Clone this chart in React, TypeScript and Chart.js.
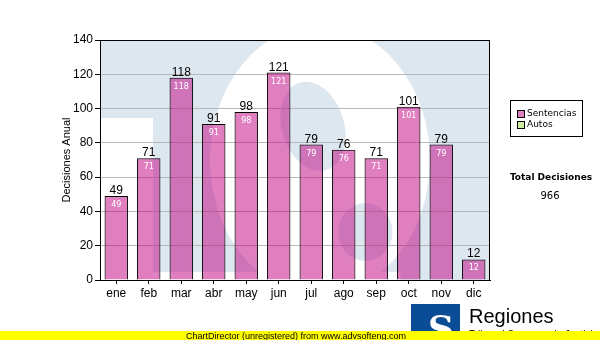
import { useEffect, useRef } from 'react';
import { Chart, registerables } from 'chart.js';

Chart.register(...registerables);

const months = ['ene', 'feb', 'mar', 'abr', 'may', 'jun', 'jul', 'ago', 'sep', 'oct', 'nov', 'dic'];
const sentencias = [49, 71, 118, 91, 98, 121, 79, 76, 71, 101, 79, 12];
const autos = [0, 0, 0, 0, 0, 0, 0, 0, 0, 0, 0, 0];
const seriesNames = ['Sentencias', 'Autos'];
const yMin = 0;
const yMax = 140;
const yStep = 20;
const axisTitle = 'Decisiones Anual';
const totalTitle = 'Total Decisiones';
const footerText = 'ChartDirector (unregistered) from www.advsofteng.com';
const logoTitle = 'Regiones';
const logoSub = 'Tribunal Supremo de Justicia';

const ARIAL = 'Arial, "Liberation Sans", sans-serif';
const VERD = '"DejaVu Sans", Verdana, sans-serif';
const BAR_FILL = 'rgba(193,0,128,0.5)';
const AUTO_FILL = 'rgba(160,215,70,0.5)';
const LEGEND_FILL = ['#e07fc0', '#d0ee9f'];
const WM_BLUE = '#dde7f0';

const decorPlugin = {
  id: 'decor',
  beforeDraw(chart: any) {
    const { ctx, chartArea } = chart;
    const { left, top, right, bottom } = chartArea;
    const w = right - left;
    const h = bottom - top;
    const X = (f: number) => left + f * w;
    const Y = (f: number) => top + f * h;
    ctx.save();
    ctx.beginPath();
    ctx.rect(left, top, w, h);
    ctx.clip();
    ctx.fillStyle = WM_BLUE;
    ctx.fillRect(left, top, w, h);
    ctx.fillStyle = '#ffffff';
    // stem
    ctx.fillRect(X(0), Y(0.325), 0.136 * w, 0.642 * h);
    // bottom strip
    ctx.fillRect(X(0), Y(0.967), 0.77 * w, 0.04 * h);
    // big S body
    ctx.beginPath();
    ctx.ellipse(X(0.564), Y(0.5), 0.282 * w, 0.5625 * h, 0, 0, Math.PI * 2);
    ctx.fill();
    // counters
    ctx.fillStyle = WM_BLUE;
    ctx.beginPath();
    ctx.ellipse(X(0.546), Y(0.36), 0.08 * w, 0.19 * h, -0.3, 0, Math.PI * 2);
    ctx.fill();
    ctx.beginPath();
    ctx.ellipse(X(0.68), Y(0.8), 0.07 * w, 0.12 * h, 0, 0, Math.PI * 2);
    ctx.fill();
    ctx.restore();
  },
  afterDraw(chart: any) {
    const { ctx, chartArea } = chart;
    const { left, top, right, bottom } = chartArea;
    ctx.save();
    // plot border
    ctx.strokeStyle = '#000';
    ctx.lineWidth = 1;
    ctx.strokeRect(Math.round(left) + 0.5, Math.round(top) + 0.5, Math.round(right - left) - 1, Math.round(bottom - top));

    // value labels
    const meta = chart.getDatasetMeta(0);
    const vals = chart.data.datasets[0].data as number[];
    meta.data.forEach((bar: any, i: number) => {
      const v = vals[i];
      ctx.textAlign = 'center';
      ctx.textBaseline = 'alphabetic';
      ctx.fillStyle = '#000';
      ctx.font = `12px ${ARIAL}`;
      ctx.fillText(String(v), bar.x, bar.y - 2);
      ctx.fillStyle = '#ffffff';
      ctx.font = `8px ${VERD}`;
      ctx.fillText(String(v), bar.x, bar.y + 11);
    });

    // legend
    const lx = right + 20;
    const ly = top + 60;
    ctx.fillStyle = '#fff';
    ctx.fillRect(lx + 0.5, ly + 0.5, 72, 36);
    ctx.strokeStyle = '#000';
    ctx.strokeRect(lx + 0.5, ly + 0.5, 72, 36);
    chart.data.datasets.forEach((ds: any, i: number) => {
      const sy = ly + 10 + i * 11;
      ctx.fillStyle = LEGEND_FILL[i];
      ctx.fillRect(lx + 7.5, sy + 0.5, 7, 7);
      ctx.strokeStyle = '#000';
      ctx.strokeRect(lx + 7.5, sy + 0.5, 7, 7);
      ctx.fillStyle = '#000';
      ctx.font = `9px ${VERD}`;
      ctx.textAlign = 'left';
      ctx.textBaseline = 'middle';
      ctx.fillText(ds.label, lx + 17, sy + 4);
    });

    // total
    const total = (chart.data.datasets as any[]).reduce(
      (s: number, ds: any) => s + (ds.data as number[]).reduce((a: number, b: number) => a + b, 0),
      0
    );
    ctx.textAlign = 'center';
    ctx.textBaseline = 'middle';
    ctx.fillStyle = '#000';
    ctx.font = `bold 9px ${VERD}`;
    ctx.fillText(totalTitle, 551, top + 138);
    ctx.font = `10px ${VERD}`;
    ctx.fillText(String(total), 550, top + 156);

    // logo
    ctx.fillStyle = '#0b4c97';
    ctx.fillRect(411, 304, 49, 30);
    ctx.fillStyle = '#ffffff';
    ctx.font = `bold 36px "DejaVu Serif", serif`;
    ctx.textAlign = 'center';
    ctx.textBaseline = 'alphabetic';
    ctx.fillText('S', 441, 341);
    ctx.fillStyle = '#000';
    ctx.textAlign = 'left';
    ctx.font = `20px ${ARIAL}`;
    ctx.fillText(logoTitle, 469, 323);
    ctx.font = `10px ${ARIAL}`;
    ctx.fillText(logoSub, 469, 338);

    // footer
    ctx.fillStyle = '#ffff00';
    ctx.fillRect(0, 331, 600, 9);
    ctx.fillStyle = '#000';
    ctx.font = `9px ${ARIAL}`;
    ctx.textAlign = 'center';
    ctx.textBaseline = 'alphabetic';
    ctx.fillText(footerText, 296, 339);
    ctx.restore();
  },
};

export default function App() {
  const ref = useRef<HTMLCanvasElement | null>(null);
  useEffect(() => {
    if (!ref.current) return;
    const chart = new Chart(ref.current, {
      type: 'bar',
      data: {
        labels: months,
        datasets: [
          {
            label: seriesNames[0],
            data: sentencias,
            backgroundColor: BAR_FILL,
            borderColor: '#000',
            borderWidth: 1,
            barPercentage: 0.72,
            categoryPercentage: 1,
          },
          {
            label: seriesNames[1],
            data: autos,
            backgroundColor: AUTO_FILL,
            borderColor: '#000',
            borderWidth: 0,
            barPercentage: 0.72,
            categoryPercentage: 1,
          },
        ],
      },
      options: {
        responsive: false,
        animation: false,
        devicePixelRatio: 1,
        layout: { padding: { left: 60, top: 40, right: 110, bottom: 0 } },
        plugins: { legend: { display: false }, tooltip: { enabled: false }, title: { display: false } },
        scales: {
          x: {
            stacked: true,
            grid: { offset: false, drawOnChartArea: false, tickColor: '#000', tickLength: 4 },
            border: { color: '#000' },
            ticks: { color: '#000', font: { family: ARIAL, size: 12 }, padding: 2 },
            afterFit: (s: any) => {
              s.height = 60;
            },
          },
          y: {
            stacked: true,
            min: yMin,
            max: yMax,
            ticks: { stepSize: yStep, color: '#000', font: { family: ARIAL, size: 12 }, padding: 2 },
            grid: { color: '#b8b8b8', tickColor: '#000', tickLength: 5 },
            border: { color: '#000' },
            title: {
              display: true,
              text: axisTitle,
              color: '#000',
              font: { family: ARIAL, size: 11 },
              padding: 0,
            },
            afterFit: (s: any) => {
              s.width = 40;
            },
          },
        },
      } as any,
      plugins: [decorPlugin],
    });
    return () => chart.destroy();
  }, []);
  return (
    <div style={{ position: 'absolute', left: 0, top: 0, width: 600, height: 340, background: '#fff' }}>
      <canvas ref={ref} width={600} height={340} style={{ display: 'block' }} />
    </div>
  );
}
